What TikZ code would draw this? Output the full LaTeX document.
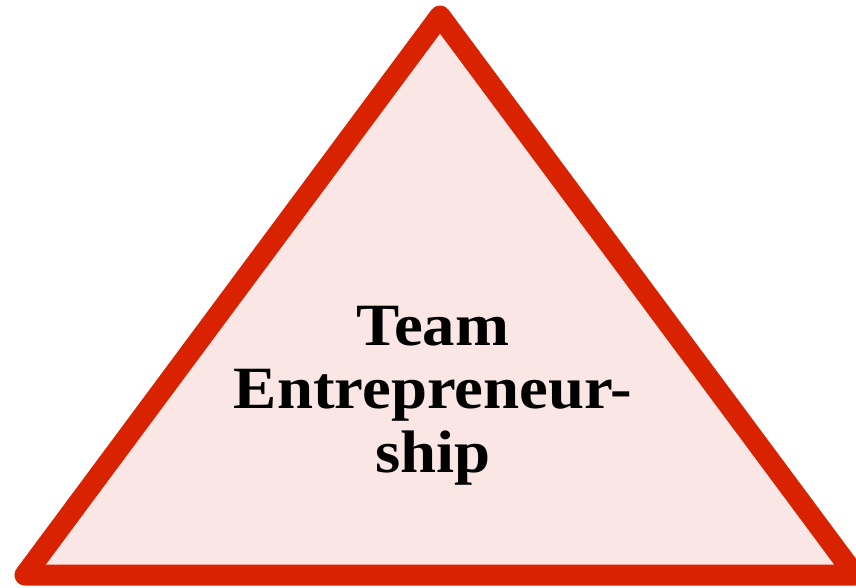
\documentclass[tikz,border=0pt]{standalone}
\usepackage{fontspec}
\setmainfont{Liberation Serif}
\definecolor{trired}{RGB}{217,35,0}
\definecolor{trifill}{RGB}{250,230,228}
\tikzset{
  tri/.style={draw=trired, fill=trifill, line width=21pt, line join=round},
  lbl/.style={align=center, font=\bfseries\fontsize{60}{63.5}\selectfont, xscale=1.08, transform shape}
}
\begin{document}
\begin{tikzpicture}[x=1pt,y=1pt]
\useasboundingbox (0,0) rectangle (856,587);
\coordinate (apex) at (440,571);
\coordinate (bl) at (25,12);
\coordinate (br) at (855,12);
\draw[tri] (apex) -- (br) -- (bl) -- cycle;
\node[lbl, anchor=base] (t) at (433,115) {Team\\Entrepreneur-\\ship};
\end{tikzpicture}
\end{document}
